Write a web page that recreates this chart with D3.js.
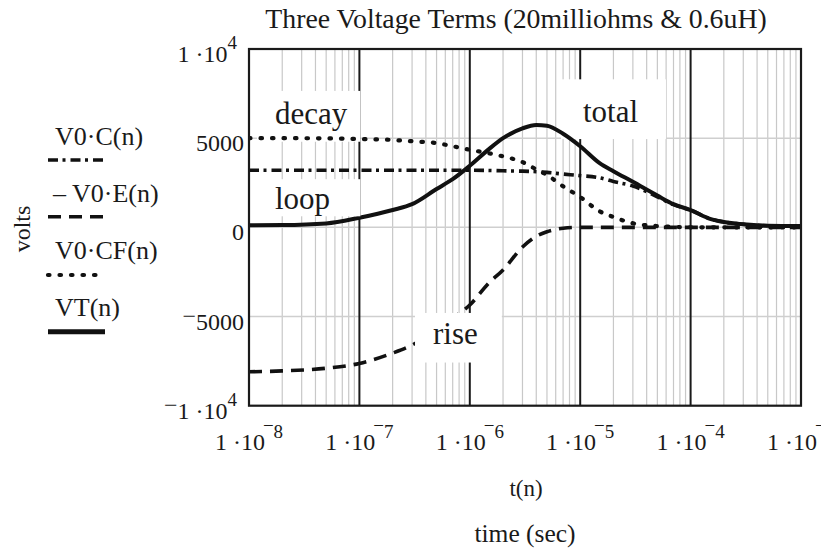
<!DOCTYPE html>
<html>
<head>
<meta charset="utf-8">
<script src="https://cdn.jsdelivr.net/npm/d3@7"></script>
<style>
html,body{margin:0;padding:0;background:#fff;}
svg{display:block;}
</style>
</head>
<body>
<svg id="chart" width="821" height="548" font-family="'Liberation Serif', 'Times New Roman', Times, 'DejaVu Serif', serif"></svg>
<script>
// ---- data ----
const tVals = [1e-8,2e-8,5e-8,1e-7,2e-7,3e-7,5e-7,7e-7,1e-6,1.5e-6,2e-6,3e-6,4e-6,5e-6,7e-6,1e-5,1.5e-5,2e-5,3e-5,5e-5,7e-5,1e-4,1.5e-4,2e-4,3e-4,5e-4,1e-3];
const vC  = [3200,3200,3200,3200,3200,3200,3200,3200,3200,3190,3170,3150,3120,3080,2990,2900,2780,2570,2320,1710,1270,970,480,300,170,90,70];
const vE  = [-8100,-8050,-7900,-7630,-7050,-6600,-5750,-5100,-4350,-3100,-2390,-1100,-500,-250,-50,0,0,0,0,0,0,0,0,0,0,0,0];
const vCF = [5000,5000,4990,4950,4900,4830,4720,4550,4350,4150,3980,3660,3250,2940,2300,1700,900,580,230,70,30,0,0,0,0,0,0];
const vT  = [120,130,220,540,970,1300,2150,2700,3450,4400,5000,5550,5740,5700,5250,4550,3600,3150,2550,1780,1300,970,480,300,170,90,70];

const seriesNames = ["V0\u00B7C(n)","\u2013 V0\u00B7E(n)","V0\u00B7CF(n)","VT(n)"];
const decadeTicks = [1e-8,1e-7,1e-6,1e-5,1e-4,1e-3];
const decadeExp = ["8","7","6","5","4","3"];
const yTicks = [10000,5000,0,-5000,-10000];
const annotations = ["decay","loop","rise","total"];
const titleText = "Three Voltage Terms (20milliohms & 0.6uH)";

// ---- layout ----
const svg = d3.select("#chart");
const ink = "#1a1a1a";
const L=249, R=801, T=49, B=405.7;
const x = d3.scaleLog().domain([1e-8,1e-3]).range([L,R]);
const y = d3.scaleLinear().domain([-10000,10000]).range([B,T]);

svg.append("defs").append("clipPath").attr("id","plotclip")
  .append("rect").attr("x",L).attr("y",T).attr("width",R-L).attr("height",B-T);

// minor grid
const minor=[];
for(let d=-8; d<=-4; d++) for(let k=2;k<=9;k++) minor.push(k*Math.pow(10,d));
const grid = svg.append("g");
grid.selectAll("line.mv").data(minor).enter().append("line")
  .attr("x1",d=>x(d)).attr("x2",d=>x(d)).attr("y1",T).attr("y2",B)
  .attr("stroke","#c8c8c8").attr("stroke-width",1.2);
grid.selectAll("line.h").data([5000,0,-5000]).enter().append("line")
  .attr("x1",L).attr("x2",R).attr("y1",d=>y(d)).attr("y2",d=>y(d))
  .attr("stroke","#cfcfcf").attr("stroke-width",1.5);
grid.selectAll("line.dv").data(decadeTicks.slice(1,5)).enter().append("line")
  .attr("x1",d=>x(d)).attr("x2",d=>x(d)).attr("y1",T).attr("y2",B)
  .attr("stroke",ink).attr("stroke-width",2);

// label boxes (positions in data space)
const boxes = {
  decay:{t0:1.18e-8,t1:1.02e-7,v0:7650,v1:4800,tx:1.72e-8,tv:5800},
  loop:{t0:1.18e-8,t1:1.02e-7,v0:2700,v1:620,tx:1.72e-8,tv:1050},
  rise:{t0:3.19e-7,t1:1.95e-6,v0:-4800,v1:-7580,tx:4.64e-7,tv:-6550},
  total:{t0:6.7e-6,t1:5.98e-5,v0:8300,v1:4950,tx:1.06e-5,tv:5900}
};
function drawBox(g,name){
  const b=boxes[name];
  g.append("rect").attr("x",x(b.t0)).attr("y",y(b.v0))
   .attr("width",x(b.t1)-x(b.t0)).attr("height",y(b.v1)-y(b.v0)).attr("fill","#fff");
}
function drawBoxText(g,name){
  const b=boxes[name];
  g.append("text").attr("x",x(b.tx)).attr("y",y(b.tv)).attr("font-size",31).attr("fill",ink).text(name);
}
const under = svg.append("g");
drawBox(under,"decay"); drawBox(under,"total");

// curves
const plot = svg.append("g").attr("clip-path","url(#plotclip)");
const line = d3.line().x(d=>x(d[0])).y(d=>y(d[1])).curve(d3.curveMonotoneX);
const styles = [
  {data:vC, w:3.6, dash:"10,4.5,3,5", cap:"butt"},
  {data:vE, w:3.6, dash:"13,8", cap:"butt"},
  {data:vCF, w:4.2, dash:"1.5,10", cap:"round"},
  {data:vT, w:4, dash:null, cap:"round"}
];
styles.forEach(s=>{
  plot.append("path").datum(tVals.map((t,i)=>[t,s.data[i]]))
    .attr("d",line).attr("fill","none").attr("stroke","#111")
    .attr("stroke-width",s.w).attr("stroke-dasharray",s.dash)
    .attr("stroke-linecap",s.cap).attr("stroke-linejoin","round");
});

const over = svg.append("g");
drawBox(over,"loop"); drawBox(over,"rise");
annotations.forEach(a=>drawBoxText(over,a));

// frame
svg.append("rect").attr("x",L).attr("y",T).attr("width",R-L).attr("height",B-T)
  .attr("fill","none").attr("stroke",ink).attr("stroke-width",2.2);

// title
svg.append("text").attr("x",516).attr("y",28).attr("text-anchor","middle")
  .attr("font-size",27.8).attr("fill",ink).text(titleText);

// y tick labels
const yl = svg.append("g").attr("fill",ink);
yTicks.forEach(v=>{
  const a=Math.abs(v), neg=v<0;
  const t = yl.append("text").attr("x",a===10000?237:244).attr("y",y(v)+13).attr("text-anchor","end").attr("font-size",24);
  if(neg){ t.append("tspan").attr("dy",-6).text("\u2212"); }
  if(a===10000){
    t.append("tspan").attr("dy",neg?6:0).text("1 \u00B710");
    t.append("tspan").attr("dy",-13).attr("font-size",19).text("4");
  } else {
    t.append("tspan").attr("dy",neg?6:0).text(String(a));
  }
});

// x tick labels
const xl = svg.append("g").attr("fill",ink);
decadeTicks.forEach((d,i)=>{
  const t = xl.append("text").attr("x",x(d)).attr("y",450).attr("text-anchor","middle").attr("font-size",24);
  t.append("tspan").text("1 \u00B710");
  t.append("tspan").attr("dy",-18).attr("dx",-2).attr("font-size",19).text("\u2212");
  t.append("tspan").attr("dy",6).attr("font-size",19).text(decadeExp[i]);
});

// axis titles
svg.append("text").attr("transform","translate(30,229) rotate(-90)").attr("text-anchor","middle")
  .attr("font-size",24).attr("fill",ink).text("volts");
svg.append("text").attr("x",526).attr("y",496).attr("text-anchor","middle").attr("font-size",23).attr("fill",ink).text("t(n)");
svg.append("text").attr("x",525).attr("y",542).attr("text-anchor","middle").attr("font-size",25.5).attr("fill",ink).text("time (sec)");

// legend
const leg = svg.append("g");
const legText = [145,202,259,316];
const legLine = [160,216.7,275,331.7];
seriesNames.forEach((n,i)=>{
  leg.append("text").attr("x",i===1?53:55).attr("y",legText[i]).attr("font-size",26).attr("fill",ink).text(n);
  const s=styles[i];
  leg.append("line").attr("x1",48).attr("x2",i===3?105:103).attr("y1",legLine[i]).attr("y2",legLine[i])
    .attr("stroke","#111").attr("stroke-width",i===3?5:s.w)
    .attr("stroke-dasharray",s.dash).attr("stroke-linecap",i===3?"butt":s.cap);
});
</script>
</body>
</html>
